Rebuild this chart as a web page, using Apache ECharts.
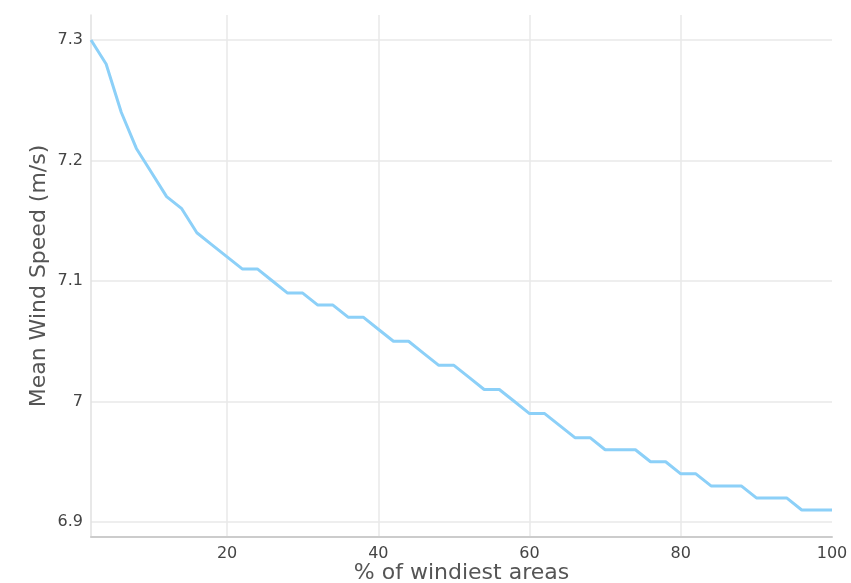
<!DOCTYPE html>
<html>
<head>
<meta charset="utf-8">
<script src="https://cdn.jsdelivr.net/npm/echarts@6/dist/echarts.min.js"></script>
<style>
html,body{margin:0;padding:0;background:#fff;overflow:hidden;}
#chart{width:851px;height:583px;}
</style>
</head>
<body>
<div id="chart"></div>
<script>
var percentWindiest = [2,4,6,8,10,12,14,16,18,20,22,24,26,28,30,32,34,36,38,40,42,44,46,48,50,52,54,56,58,60,62,64,66,68,70,72,74,76,78,80,82,84,86,88,90,92,94,96,98,100];
var meanWindSpeed = [7.30,7.28,7.24,7.21,7.19,7.17,7.16,7.14,7.13,7.12,
                     7.11,7.11,7.10,7.09,7.09,7.08,7.08,7.07,7.07,7.06,
                     7.05,7.05,7.04,7.03,7.03,7.02,7.01,7.01,7.00,6.99,
                     6.99,6.98,6.97,6.97,6.96,6.96,6.96,6.95,6.95,6.94,
                     6.94,6.93,6.93,6.93,6.92,6.92,6.92,6.91,6.91,6.91];
var xAxisTitle = '% of windiest areas';
var yAxisTitle = 'Mean Wind Speed (m/s)';

var seriesData = percentWindiest.map(function(x, i){ return [x, meanWindSpeed[i]]; });
var font = 'DejaVu Sans';
var chart = echarts.init(document.getElementById('chart'), null, {renderer:'canvas'});
chart.setOption({
  animation: false,
  grid: {left: 91, right: 19, top: 15, bottom: 46, containLabel: false, outerBoundsMode: 'none'},
  xAxis: {
    type: 'value', min: 2, max: 100,
    name: xAxisTitle, nameLocation: 'middle', nameGap: 25, nameMoveOverlap: false,
    nameTextStyle: {fontFamily: font, fontSize: 22, color: '#555'},
    axisLine: {show: true, lineStyle: {color: '#cccccc', width: 2}},
    axisTick: {show: false},
    axisLabel: {showMinLabel: false, fontFamily: font, fontSize: 16, color: '#444', margin: 9},
    splitLine: {show: true, showMinLine: false, showMaxLine: false, lineStyle: {color: '#e8e8e8', width: 1.5}}
  },
  yAxis: {
    type: 'value', min: 6.8876, max: 7.3207,
    name: yAxisTitle, nameLocation: 'middle', nameGap: 41, nameRotate: 90, nameMoveOverlap: false,
    nameTextStyle: {fontFamily: font, fontSize: 22, color: '#555'},
    axisLine: {show: true, lineStyle: {color: '#e0e0e0', width: 1.5}},
    axisTick: {show: false},
    axisLabel: {showMinLabel: false, showMaxLabel: false, fontFamily: font, fontSize: 16, color: '#444', margin: 8},
    splitLine: {show: true, showMinLine: false, showMaxLine: false, lineStyle: {color: '#e8e8e8', width: 1.5}}
  },
  series: [{
    type: 'line', data: seriesData, showSymbol: false, symbol: 'none',
    lineStyle: {color: '#8cd0f8', width: 3}
  }]
});
</script>
</body>
</html>
